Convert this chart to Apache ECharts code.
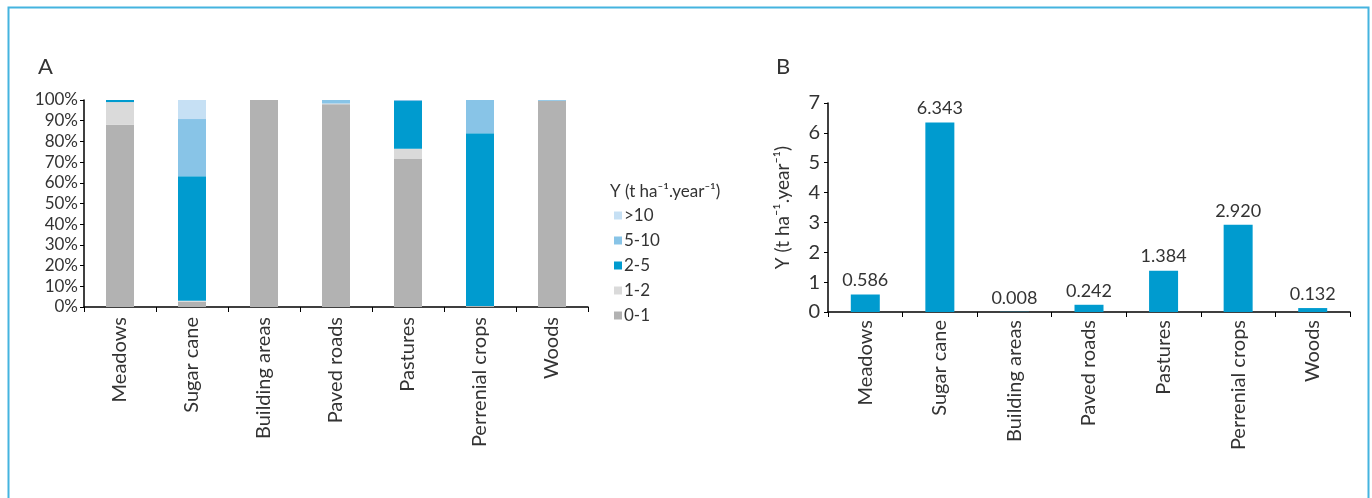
<!DOCTYPE html>
<html>
<head>
<meta charset="utf-8">
<script src="https://cdn.jsdelivr.net/npm/echarts@6/dist/echarts.min.js"></script>
<style>
  html, body { margin: 0; padding: 0; background: #fff; }
  #main { width: 1372px; height: 498px; }
</style>
</head>
<body>
<div id="main"></div>
<script>
// land use categories (same for both panels)
var categories = ['Meadows', 'Sugar cane', 'Building areas', 'Paved roads', 'Pastures', 'Perrenial crops', 'Woods'];

// panel A - share of area (%) per erosion class
var classNames = ['0-1', '1-2', '2-5', '5-10', '>10'];
var share01 = [88, 2.5, 100, 98, 71.5, 0.5, 99.6];
var share12 = [11, 0.5, 0, 0.3, 5, 0, 0];
var share25 = [1, 60.2, 0, 0, 23, 83.4, 0];
var share510 = [0, 27.6, 0, 1.7, 0.5, 16.1, 0.4];
var share10 = [0, 9.2, 0, 0, 0, 0, 0];
var percentTicks = [0, 10, 20, 30, 40, 50, 60, 70, 80, 90, 100];

// panel B - mean soil loss Y (t ha-1.year-1)
var meanLoss = [0.586, 6.343, 0.008, 0.242, 1.384, 2.920, 0.132];

var classColors = {
    '0-1': '#b2b2b2',
    '1-2': '#dadada',
    '2-5': '#009bcf',
    '5-10': '#88c4e7',
    '>10': '#c6e0f4'
};
var shares = [share01, share12, share25, share510, share10];

var txt = '#333';
var font = 'Lato, "Open Sans", sans-serif';
var unit = 'Y (t ha\u207B\u00B9.year\u207B\u00B9)';

var myChart = echarts.init(document.getElementById('main'));

var stackSeries = classNames.map(function(name, i) {
    return {
        name: name,
        type: 'bar',
        stack: 'area',
        xAxisIndex: 0,
        yAxisIndex: 0,
        barWidth: 28,
        itemStyle: { color: classColors[name] },
        data: shares[i]
    };
});

var option = {
    animation: false,
    textStyle: { fontFamily: font },
    graphic: [{
        type: 'rect',
        shape: { x: 8.5, y: 7.5, width: 1360, height: 600 },
        style: { fill: 'none', stroke: '#45b4df', lineWidth: 2 },
        silent: true
    }],
    title: [
        { text: 'A', left: 33, top: 51, textStyle: { fontFamily: font, fontSize: 22, fontWeight: 'normal', color: txt } },
        { text: 'B', left: 771, top: 51, textStyle: { fontFamily: font, fontSize: 22, fontWeight: 'normal', color: txt } },
        { text: unit, left: 605, top: 178, textStyle: { fontFamily: font, fontSize: 17, fontWeight: 'normal', color: txt } }
    ],
    legend: {
        orient: 'vertical',
        left: 609,
        top: 202,
        itemWidth: 8,
        itemHeight: 8,
        itemGap: 8,
        icon: 'rect',
        textStyle: { fontFamily: font, fontSize: 17, color: txt, lineHeight: 17, padding: [0, 0, 0, -3] },
        data: ['>10', '5-10', '2-5', '1-2', '0-1']
    },
    grid: [
        { left: 84, right: 784, top: 100, bottom: 191 },
        { left: 828, right: 22, top: 103, bottom: 186 }
    ],
    xAxis: [{
        type: 'category',
        gridIndex: 0,
        data: categories,
        axisLine: { lineStyle: { color: '#000', width: 1.5 } },
        axisTick: { show: true, length: 5, lineStyle: { color: '#000' } },
        axisLabel: { rotate: 90, interval: 0, margin: 10, fontSize: 20, color: txt, fontFamily: font }
    }, {
        type: 'category',
        gridIndex: 1,
        data: categories,
        axisLine: { lineStyle: { color: '#000', width: 1.5 } },
        axisTick: { show: true, length: 5, lineStyle: { color: '#000' } },
        axisLabel: { rotate: 90, interval: 0, margin: 8, fontSize: 20, color: txt, fontFamily: font }
    }],
    yAxis: [{
        type: 'value',
        gridIndex: 0,
        min: percentTicks[0],
        max: percentTicks[percentTicks.length - 1],
        interval: 10,
        axisLine: { show: true, lineStyle: { color: '#000', width: 1.5 } },
        axisTick: { show: true, length: 4, lineStyle: { color: '#000' } },
        splitLine: { show: false },
        axisLabel: { formatter: '{value}%', margin: 6, fontSize: 17, color: txt, fontFamily: font }
    }, {
        type: 'value',
        gridIndex: 1,
        min: 0,
        max: 7,
        interval: 1,
        name: unit,
        nameLocation: 'middle',
        nameGap: 36,
        nameTextStyle: { fontSize: 19, color: txt, fontFamily: font },
        axisLine: { show: true, lineStyle: { color: '#000', width: 1.5 } },
        axisTick: { show: true, length: 4, lineStyle: { color: '#000' } },
        splitLine: { show: false },
        axisLabel: { margin: 8, fontSize: 20, color: txt, fontFamily: font }
    }],
    series: stackSeries.concat([{
        name: 'Y',
        type: 'bar',
        xAxisIndex: 1,
        yAxisIndex: 1,
        barWidth: 29,
        itemStyle: { color: '#009bcf' },
        label: {
            show: true,
            position: 'top',
            distance: 5,
            fontSize: 18,
            color: txt,
            fontFamily: font,
            formatter: function(p) { return p.value.toFixed(3); }
        },
        data: meanLoss
    }])
};

myChart.setOption(option);
</script>
</body>
</html>
